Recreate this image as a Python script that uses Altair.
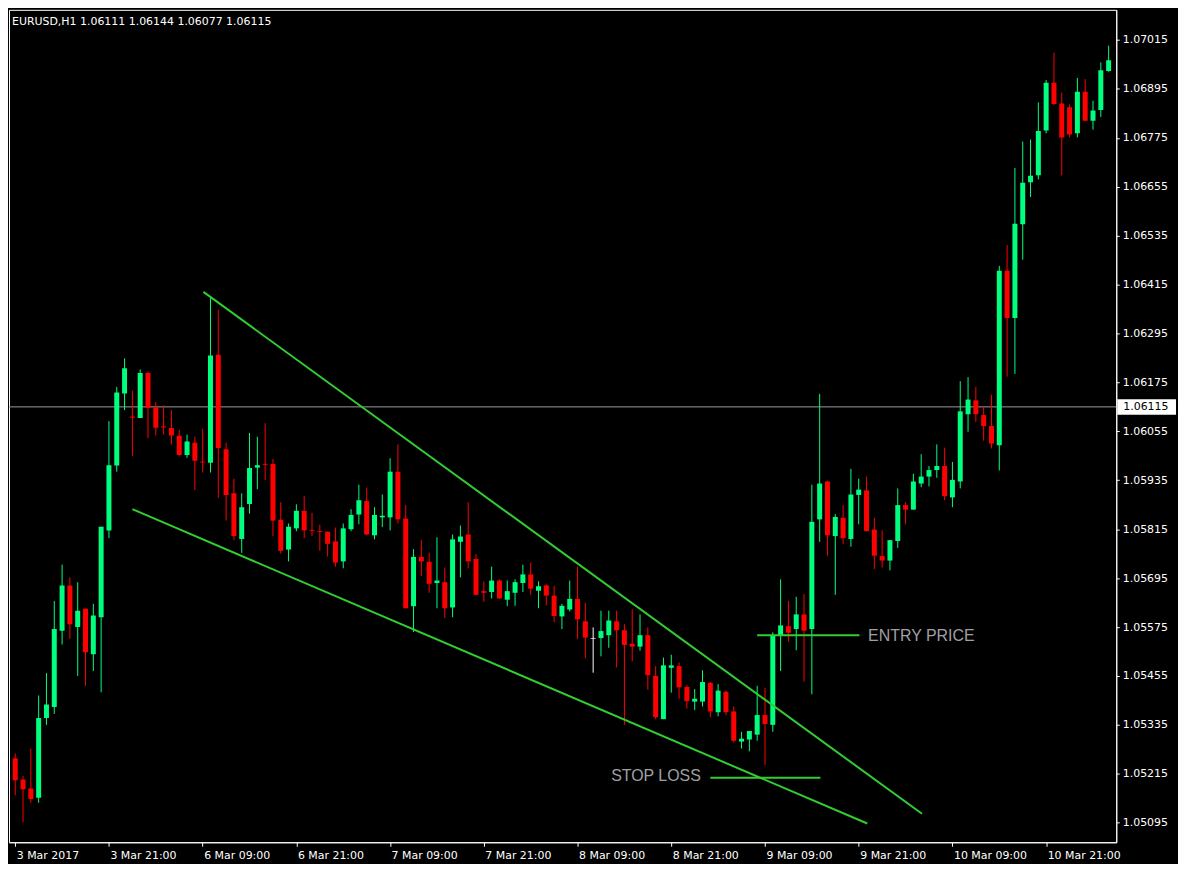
import altair as alt
import pandas as pd

# ---------------- data (EURUSD H1) ----------------
opens = [
    1.05253, 1.05201, 1.05179, 1.05156, 1.05352, 1.05379, 1.05566, 1.05677, 1.05575, 1.05620,
    1.05508, 1.05599, 1.05812, 1.05971, 1.06148, 1.06090, 1.06088, 1.06198, 1.06114, 1.06066,
    1.06063, 1.06044, 1.05997, 1.06027, 1.05980, 1.05978, 1.06243, 1.06011, 1.05903, 1.05791,
    1.05877, 1.05966, 1.05974, 1.05975, 1.05838, 1.05765, 1.05817, 1.05860, 1.05812, 1.05810,
    1.05809, 1.05785, 1.05736, 1.05815, 1.05851, 1.05884, 1.05800, 1.05844, 1.05844, 1.05956,
    1.05841, 1.05626, 1.05747, 1.05735, 1.05683, 1.05685, 1.05623, 1.05784, 1.05802, 1.05742,
    1.05663, 1.05661, 1.05689, 1.05642, 1.05659, 1.05683, 1.05704, 1.05664, 1.05677, 1.05652,
    1.05601, 1.05618, 1.05644, 1.05589, 1.05547, 1.05548, 1.05555, 1.05589, 1.05567, 1.05534,
    1.05527, 1.05555, 1.05455, 1.05349, 1.05475, 1.05479, 1.05428, 1.05392, 1.05392, 1.05438,
    1.05366, 1.05416, 1.05368, 1.05294, 1.05299, 1.05311, 1.05359, 1.05335, 1.05555, 1.05577,
    1.05570, 1.05606, 1.05570, 1.05839, 1.05932, 1.05798, 1.05843, 1.05791, 1.05899, 1.05910,
    1.05814, 1.05749, 1.05738, 1.05786, 1.05874, 1.05863, 1.05927, 1.05944, 1.05960, 1.05970,
    1.05893, 1.05932, 1.06097, 1.06131, 1.06095, 1.06068, 1.06021, 1.06449, 1.06333, 1.06563,
    1.06666, 1.06683, 1.06793, 1.06910, 1.06859, 1.06850, 1.06786, 1.06888, 1.06817, 1.06843,
    1.06939,
]
highs = [
    1.05265, 1.05210, 1.05277, 1.05407, 1.05462, 1.05639, 1.05728, 1.05697, 1.05685, 1.05620,
    1.05632, 1.05821, 1.06080, 1.06164, 1.06234, 1.06155, 1.06207, 1.06202, 1.06126, 1.06119,
    1.06107, 1.06059, 1.06047, 1.06042, 1.06061, 1.06387, 1.06353, 1.06027, 1.05939, 1.05903,
    1.06051, 1.06042, 1.06075, 1.05987, 1.05881, 1.05829, 1.05876, 1.05896, 1.05855, 1.05826,
    1.05809, 1.05819, 1.05829, 1.05864, 1.05924, 1.05917, 1.05869, 1.05900, 1.05989, 1.06023,
    1.05874, 1.05766, 1.05788, 1.05757, 1.05795, 1.05721, 1.05802, 1.05824, 1.05881, 1.05754,
    1.05687, 1.05723, 1.05692, 1.05689, 1.05692, 1.05728, 1.05733, 1.05687, 1.05680, 1.05676,
    1.05632, 1.05689, 1.05723, 1.05634, 1.05574, 1.05615, 1.05615, 1.05615, 1.05582, 1.05618,
    1.05606, 1.05574, 1.05479, 1.05500, 1.05507, 1.05488, 1.05433, 1.05423, 1.05469, 1.05440,
    1.05435, 1.05419, 1.05380, 1.05318, 1.05320, 1.05431, 1.05426, 1.05562, 1.05692, 1.05639,
    1.05649, 1.05656, 1.05924, 1.06147, 1.05934, 1.05852, 1.05874, 1.05963, 1.05939, 1.05944,
    1.05843, 1.05812, 1.05788, 1.05915, 1.05881, 1.05951, 1.05999, 1.05970, 1.06023, 1.06015,
    1.05980, 1.06178, 1.06188, 1.06164, 1.06116, 1.06145, 1.06461, 1.06512, 1.06701, 1.06766,
    1.06771, 1.06862, 1.06917, 1.06984, 1.06886, 1.06857, 1.06922, 1.06919, 1.06866, 1.06960,
    1.07001,
]
lows = [
    1.05162, 1.05096, 1.05144, 1.05144, 1.05335, 1.05362, 1.05532, 1.05546, 1.05455, 1.05431,
    1.05467, 1.05415, 1.05793, 1.05956, 1.06107, 1.05995, 1.06088, 1.06038, 1.06045, 1.06047,
    1.06023, 1.05995, 1.05990, 1.05911, 1.05954, 1.05954, 1.05892, 1.05836, 1.05788, 1.05757,
    1.05853, 1.05913, 1.05935, 1.05798, 1.05755, 1.05736, 1.05810, 1.05793, 1.05798, 1.05762,
    1.05748, 1.05723, 1.05719, 1.05810, 1.05827, 1.05800, 1.05790, 1.05820, 1.05812, 1.05829,
    1.05621, 1.05563, 1.05700, 1.05659, 1.05621, 1.05597, 1.05599, 1.05697, 1.05719, 1.05654,
    1.05637, 1.05645, 1.05645, 1.05626, 1.05627, 1.05661, 1.05654, 1.05621, 1.05628, 1.05587,
    1.05570, 1.05613, 1.05546, 1.05498, 1.05463, 1.05503, 1.05524, 1.05476, 1.05335, 1.05491,
    1.05517, 1.05421, 1.05349, 1.05349, 1.05414, 1.05399, 1.05375, 1.05371, 1.05380, 1.05354,
    1.05356, 1.05359, 1.05292, 1.05277, 1.05270, 1.05296, 1.05236, 1.05318, 1.05467, 1.05539,
    1.05518, 1.05441, 1.05410, 1.05784, 1.05750, 1.05654, 1.05779, 1.05772, 1.05827, 1.05810,
    1.05717, 1.05721, 1.05714, 1.05769, 1.05827, 1.05863, 1.05918, 1.05920, 1.05941, 1.05886,
    1.05869, 1.05915, 1.06054, 1.06078, 1.06032, 1.06013, 1.05959, 1.06189, 1.06196, 1.06476,
    1.06630, 1.06673, 1.06786, 1.06855, 1.06683, 1.06776, 1.06776, 1.06817, 1.06795, 1.06826,
    1.06937,
]
closes = [
    1.05199, 1.05177, 1.05153, 1.05352, 1.05385, 1.05570, 1.05677, 1.05582, 1.05615, 1.05513,
    1.05603, 1.05821, 1.05972, 1.06150, 1.06210, 1.06089, 1.06198, 1.06112, 1.06064, 1.06065,
    1.06045, 1.05997, 1.06030, 1.05983, 1.05979, 1.06241, 1.06014, 1.05899, 1.05798, 1.05869,
    1.05965, 1.05972, 1.05973, 1.05836, 1.05762, 1.05821, 1.05860, 1.05812, 1.05811, 1.05808,
    1.05779, 1.05733, 1.05817, 1.05850, 1.05886, 1.05802, 1.05850, 1.05848, 1.05956, 1.05839,
    1.05621, 1.05747, 1.05736, 1.05681, 1.05689, 1.05621, 1.05790, 1.05797, 1.05736, 1.05654,
    1.05659, 1.05689, 1.05645, 1.05663, 1.05685, 1.05704, 1.05669, 1.05675, 1.05652, 1.05602,
    1.05627, 1.05644, 1.05594, 1.05549, 1.05547, 1.05565, 1.05591, 1.05567, 1.05531, 1.05527,
    1.05555, 1.05457, 1.05354, 1.05481, 1.05481, 1.05427, 1.05393, 1.05399, 1.05440, 1.05368,
    1.05419, 1.05366, 1.05296, 1.05301, 1.05320, 1.05359, 1.05337, 1.05555, 1.05579, 1.05561,
    1.05606, 1.05566, 1.05833, 1.05927, 1.05800, 1.05845, 1.05793, 1.05900, 1.05912, 1.05810,
    1.05750, 1.05738, 1.05788, 1.05874, 1.05863, 1.05932, 1.05944, 1.05960, 1.05970, 1.05896,
    1.05936, 1.06104, 1.06133, 1.06097, 1.06068, 1.06025, 1.06449, 1.06333, 1.06564, 1.06665,
    1.06682, 1.06792, 1.06910, 1.06858, 1.06776, 1.06783, 1.06888, 1.06817, 1.06842, 1.06941,
    1.06965,
]

time_labels = ["3 Mar 2017", "3 Mar 21:00", "6 Mar 09:00", "6 Mar 21:00", "7 Mar 09:00",
               "7 Mar 21:00", "8 Mar 09:00", "8 Mar 21:00", "9 Mar 09:00", "9 Mar 21:00",
               "10 Mar 09:00", "10 Mar 21:00"]
bars_per_label = 12
price_ticks = [1.05095, 1.05215, 1.05335, 1.05455, 1.05575, 1.05695, 1.05815, 1.05935,
               1.06055, 1.06175, 1.06295, 1.06415, 1.06535, 1.06655, 1.06775, 1.06895, 1.07015]

current_price = 1.06115
header_symbol = "EURUSD,H1"
header_values = ["1.06111", "1.06144", "1.06077", "1.06115"]

# drawn annotations: [bar index, price] start / end
line_names = ["upper", "lower", "entry", "stop"]
line_x1 = [24.1, 15.0, 95.0, 89.0]
line_y1 = [1.06397, 1.05864, 1.05555, 1.05205]
line_x2 = [116.1, 109.1, 108.1, 103.1]
line_y2 = [1.05117, 1.05093, 1.05555, 1.05205]

note_texts = ["ENTRY PRICE", "STOP LOSS"]
note_x = [109.2, 76.3]
note_y = [1.05553, 1.05210]

# ---------------- chart ----------------
W, H = 1112, 836

df = pd.DataFrame({"i": list(range(len(opens))), "o": opens, "h": highs, "l": lows, "c": closes})
df["top"] = df[["o", "c"]].max(axis=1)
df["bot"] = df[["o", "c"]].min(axis=1)
df["dir"] = ["up" if c > o else ("down" if c < o else "flat") for o, c in zip(df["o"], df["c"])]

xscale = alt.Scale(domain=[-0.16, 140.34], nice=False, zero=False)
yscale = alt.Scale(domain=[1.05047, 1.07089], nice=False, zero=False)

label_arr = "[" + ",".join("'" + t + "'" for t in time_labels) + "]"
xaxis = alt.Axis(values=[k * bars_per_label for k in range(len(time_labels))],
                 labelExpr=label_arr + "[round(datum.value/" + str(bars_per_label) + ")]",
                 labelAlign="left", labelBaseline="top", labelColor="white",
                 labelFont="DejaVu Sans", labelFontSize=11, labelPadding=3, labelOffset=1,
                 labelOverlap=False, labelFlush=False, labelBound=False,
                 tickColor="white", tickSize=4, domainColor="white", grid=False, title=None)
yaxis = alt.Axis(orient="right", values=price_ticks, format=".5f",
                 labelColor="white", labelFont="DejaVu Sans", labelFontSize=11,
                 labelPadding=3, labelOverlap=False, labelFlush=False,
                 tickColor="white", tickSize=3, domainColor="white", grid=False, title=None)

color = alt.Color("dir:N", scale=alt.Scale(domain=["up", "down", "flat"],
                                           range=["#00ff7f", "#ff0000", "#ffffff"]), legend=None)

base = alt.Chart(df)
wicks = base.mark_rule(strokeWidth=1, clip=True).encode(
    x=alt.X("i:Q", scale=xscale, axis=xaxis),
    y=alt.Y("l:Q", scale=yscale, axis=yaxis),
    y2="h:Q",
    color=color,
)
bodies = base.mark_bar(width=5, clip=True).encode(
    x=alt.X("i:Q", scale=xscale), y=alt.Y("bot:Q", scale=yscale), y2="top:Q", color=color
)
dojis = base.transform_filter("abs(datum.c - datum.o) < 0.00002").mark_tick(
    orient="horizontal", thickness=1, size=5, clip=True
).encode(x=alt.X("i:Q", scale=xscale), y=alt.Y("o:Q", scale=yscale), color=color)

price_df = pd.DataFrame({"p": [current_price]})
price_line = alt.Chart(price_df).mark_rule(color="#9a9aa4", strokeWidth=1).encode(
    y=alt.Y("p:Q", scale=yscale)
)
price_box = alt.Chart(price_df).transform_calculate(
    hi="datum.p + 0.00019", lo="datum.p - 0.00019"
).mark_rect(color="white").encode(
    x=alt.value(W + 1), x2=alt.value(W + 60), y=alt.Y("hi:Q", scale=yscale), y2="lo:Q"
)
price_text = alt.Chart(price_df).mark_text(
    align="left", baseline="middle", color="black", font="DejaVu Sans", fontSize=11
).encode(x=alt.value(W + 7), y=alt.Y("p:Q", scale=yscale), text=alt.Text("p:Q", format=".5f"))

lines_df = pd.DataFrame({"name": line_names, "x1": line_x1, "y1": line_y1, "x2": line_x2, "y2": line_y2})
trend = alt.Chart(lines_df).mark_rule(color="#32cd32", strokeWidth=2, clip=True).encode(
    x=alt.X("x1:Q", scale=xscale), x2="x2:Q", y=alt.Y("y1:Q", scale=yscale), y2="y2:Q"
)

notes_df = pd.DataFrame({"t": note_texts, "x": note_x, "y": note_y})
notes = alt.Chart(notes_df).mark_text(
    align="left", baseline="middle", color="#a0a0a4", font="Liberation Sans", fontSize=16
).encode(x=alt.X("x:Q", scale=xscale), y=alt.Y("y:Q", scale=yscale), text="t:N")

header_df = pd.DataFrame({"t": [header_symbol + "  " + " ".join(header_values)]})
header = alt.Chart(header_df).mark_text(
    align="left", baseline="middle", color="white", font="DejaVu Sans", fontSize=11
).encode(x=alt.value(3), y=alt.value(12), text="t:N")

chart = alt.layer(
    price_line, wicks, bodies, dojis, trend, notes, header, price_box, price_text
).properties(
    width=W, height=H, padding={"left": 0, "top": 0, "right": 2, "bottom": 2}
).configure(
    background="#000000"
).configure_view(
    stroke="white", strokeWidth=1
)

chart.save("out.html", embed_options={"renderer": "svg", "actions": False})
